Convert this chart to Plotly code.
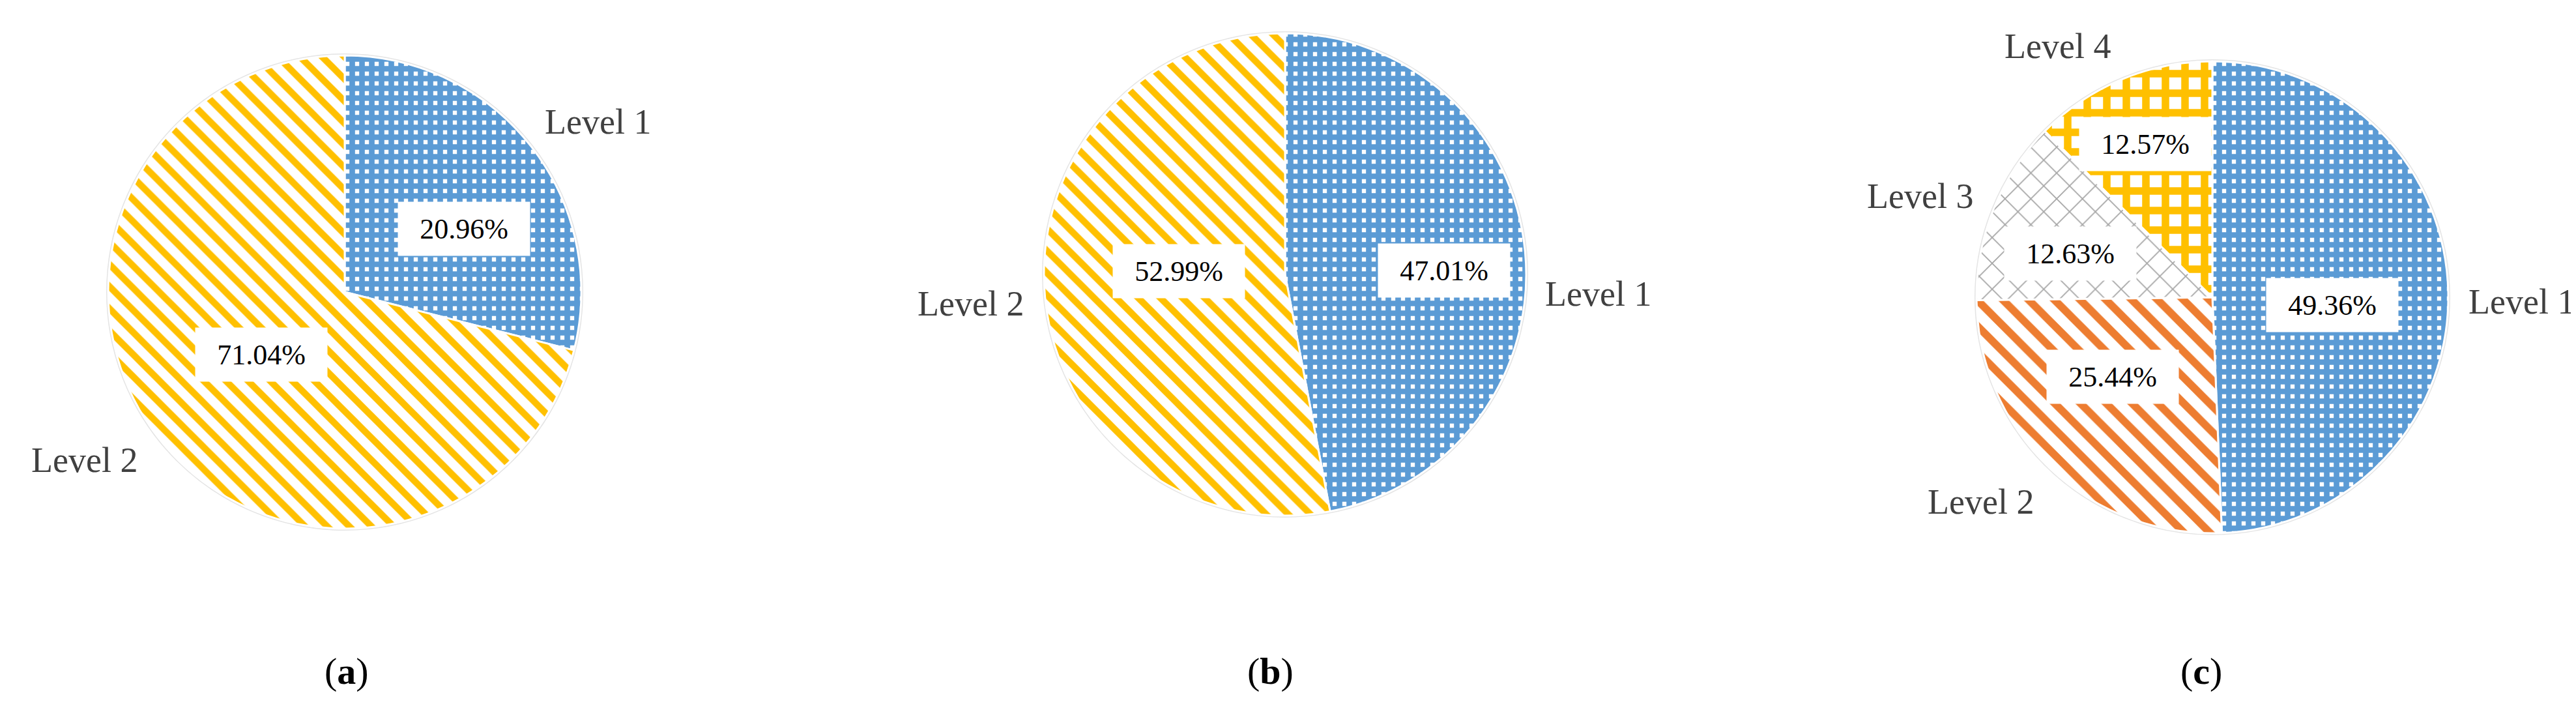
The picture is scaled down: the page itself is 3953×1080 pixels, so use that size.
import math
import plotly.graph_objects as go

W, H = 3953, 1080

# ---------------- data ----------------
labels_a = ["Level 1", "Level 2"]
values_a = [28.96, 71.04]          # slice sizes as drawn
printed_a = ["20.96%", "71.04%"]   # percentages as printed on the chart

labels_b = ["Level 1", "Level 2"]
values_b = [47.01, 52.99]
printed_b = ["47.01%", "52.99%"]

labels_c = ["Level 1", "Level 2", "Level 3", "Level 4"]
values_c = [49.36, 25.44, 12.63, 12.57]
printed_c = ["49.36%", "25.44%", "12.63%", "12.57%"]

captions = ["a", "b", "c"]

# ---------------- styles / layout ----------------
BLUE = "#5B9BD5"
GOLD = "#FFC000"
ORANGE = "#ED7D31"
GRAY = "#A5A5A5"

blue_pat = dict(shape="+", fg=BLUE, size=15, sol=0.82)
gold_stripe = dict(shape="\\", fg=GOLD, size=24, sol=0.42)
orange_stripe = dict(shape="\\", fg=ORANGE, size=28, sol=0.42)
gray_lattice = dict(shape="x", fg=GRAY, size=28, sol=0.12)
gold_check = dict(shape="+", fg=GOLD, size=30, sol=0.62)

panels = [
    dict(labels=labels_a, values=values_a, printed=printed_a,
         cx=521, cy=440, r=363, styles=[blue_pat, gold_stripe],
         pct_rad=[0.57, 0.44], pct_dang=[10, 1],
         lab_rad=[1.29, 1.31], lab_dang=[4, 5], cap_x=524),
    dict(labels=labels_b, values=values_b, printed=printed_b,
         cx=1964, cy=413, r=370, styles=[blue_pat, gold_stripe],
         pct_rad=[0.66, 0.44], pct_dang=[4, 7],
         lab_rad=[1.30, 1.31], lab_dang=[9, 0], cap_x=1941),
    dict(labels=labels_c, values=values_c, printed=printed_c,
         cx=3387, cy=448, r=362,
         styles=[blue_pat, orange_stripe, gray_lattice, gold_check],
         pct_rad=[0.51, 0.54, 0.63, 0.71], pct_dang=[5, 8, -5, -1],
         lab_rad=[1.31, 1.31, 1.31, 1.25], lab_dang=[2, 5, -3, -9],
         cap_x=3370),
]
CAP_Y = 1021

FONT = "Liberation Serif, serif"

fig = go.Figure()
annotations = []
shapes = []

for p, cap in zip(panels, captions):
    cx, cy, r = p["cx"], p["cy"], p["r"]
    st = p["styles"]
    fig.add_trace(go.Pie(
        labels=p["labels"], values=p["values"],
        sort=False, direction="clockwise", rotation=0,
        textinfo="none", hoverinfo="label+percent", showlegend=False,
        domain=dict(x=[(cx - r) / W, (cx + r) / W],
                    y=[1 - (cy + r) / H, 1 - (cy - r) / H]),
        marker=dict(
            colors=[s["fg"] for s in st],
            line=dict(color="white", width=3),
            pattern=dict(
                shape=[s["shape"] for s in st],
                fgcolor=[s["fg"] for s in st],
                bgcolor=["white"] * len(st),
                size=[s["size"] for s in st],
                solidity=[s["sol"] for s in st],
                fillmode="replace",
            ),
        ),
    ))

    # faint outer rim of the pie
    shapes.append(dict(
        type="circle", xref="paper", yref="paper",
        x0=(cx - r - 2) / W, x1=(cx + r + 2) / W,
        y0=1 - (cy + r + 2) / H, y1=1 - (cy - r - 2) / H,
        line=dict(color="#E4E4E4", width=2), layer="below",
    ))

    total = sum(p["values"])
    cum = 0.0
    for lab, v, txt, k, dk, lk, ldk in zip(
            p["labels"], p["values"], p["printed"], p["pct_rad"],
            p["pct_dang"], p["lab_rad"], p["lab_dang"]):
        mid = (cum + v / 2) / total * 2 * math.pi
        cum += v
        a1 = mid + math.radians(dk)
        px, py = cx + k * r * math.sin(a1), cy - k * r * math.cos(a1)
        annotations.append(dict(
            x=px / W, y=1 - py / H, xref="paper", yref="paper",
            text=txt, showarrow=False,
            font=dict(family=FONT, size=44, color="black"),
            bgcolor="white", width=178, height=58, borderpad=12,
            align="center", valign="middle",
            xanchor="center", yanchor="middle",
        ))
        a2 = mid + math.radians(ldk)
        lx, ly = cx + lk * r * math.sin(a2), cy - lk * r * math.cos(a2)
        annotations.append(dict(
            x=lx / W, y=1 - ly / H, xref="paper", yref="paper",
            text=lab, showarrow=False,
            font=dict(family=FONT, size=54, color="#404040"),
            xanchor="center", yanchor="middle",
        ))

    annotations.append(dict(
        x=p["cap_x"] / W, y=1 - CAP_Y / H, xref="paper", yref="paper",
        text="(<b>" + cap + "</b>)", showarrow=False,
        font=dict(family=FONT, size=58, color="black"),
        xanchor="center", yanchor="middle",
    ))

fig.update_layout(
    width=W, height=H,
    margin=dict(l=0, r=0, t=0, b=0),
    paper_bgcolor="white", plot_bgcolor="white",
    annotations=annotations, shapes=shapes,
)

fig.write_html("out.html")
